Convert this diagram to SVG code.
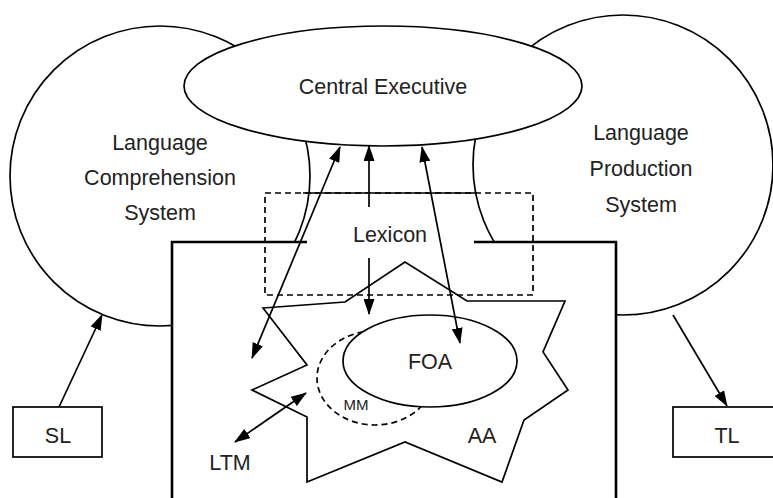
<svg xmlns="http://www.w3.org/2000/svg" width="773" height="498" viewBox="0 0 773 498">
<defs>
<marker id="ah" viewBox="0 0 16 11" refX="15" refY="5.5" markerWidth="16" markerHeight="11" markerUnits="userSpaceOnUse" orient="auto-start-reverse">
<path d="M0,0 L16,5.5 L0,11 z" fill="#000"/>
</marker>
</defs>
<style>
.ln{fill:none;stroke:#000;stroke-width:1.7}
.sh{fill:#fff;stroke:#000;stroke-width:1.7}
.bx{fill:none;stroke:#000;stroke-width:2.6}
.ds{fill:none;stroke:#000;stroke-width:1.7;stroke-dasharray:6 4}
.ar{fill:none;stroke:#000;stroke-width:1.7;marker-end:url(#ah)}
.da{fill:none;stroke:#000;stroke-width:1.7;marker-start:url(#ah);marker-end:url(#ah)}
text{font-family:"Liberation Sans",Arial,sans-serif;font-size:21.5px;fill:#222;text-anchor:middle}
</style>
<rect width="773" height="498" fill="#fff"/>
<g id="lcs">
<circle class="sh" cx="160" cy="176" r="150"/>
</g>
<g id="lps">
<circle class="sh" cx="623" cy="165" r="150"/>
</g>
<g id="ce">
<ellipse class="sh" cx="383" cy="86" rx="199" ry="60"/>
<text x="383" y="94">Central Executive</text>
</g>
<g id="box">
<rect x="172" y="242" width="444" height="260" fill="#fff"/>
<path class="bx" d="M307,242 H172 V500 M474,242 H616 V500"/>
</g>
<g id="lexicon">
<rect class="ds" x="265" y="193" width="268" height="102"/>
<line class="ln" x1="303" y1="193" x2="477" y2="193"/>
<text x="390" y="242">Lexicon</text>
</g>
<g id="aa">
<polygon class="ln" points="263,308 345,302 405,262 467,301 565,301 543,352 568,390 524,420 502,482 405,442 307,482 307,417 252,390 307,365"/>
<text x="482" y="443">AA</text>
</g>
<g id="mm">
<ellipse class="ds" cx="375" cy="378" rx="58" ry="47"/>
<text x="356" y="410" style="font-size:15px">MM</text>
</g>
<g id="foa">
<ellipse class="sh" cx="430" cy="361" rx="87" ry="46"/>
<text x="430" y="369">FOA</text>
</g>
<g id="sl">
<rect x="13" y="407" width="89" height="50" fill="#fff" stroke="#000" stroke-width="1.7"/>
<text x="58" y="443">SL</text>
</g>
<g id="tl">
<rect x="673" y="407" width="110" height="50" fill="#fff" stroke="#000" stroke-width="1.7"/>
<text x="727" y="443">TL</text>
</g>
<g id="labels">
<text x="160" y="150">Language</text>
<text x="160" y="185">Comprehension</text>
<text x="160" y="220">System</text>
<text x="641" y="140">Language</text>
<text x="641" y="176">Production</text>
<text x="641" y="212">System</text>
<text x="230" y="470">LTM</text>
</g>
<g id="connectors">
<line class="ar" x1="59" y1="407" x2="102" y2="315"/>
<line class="ar" x1="673" y1="315" x2="727" y2="406"/>
<line class="ar" x1="369" y1="207" x2="369" y2="146"/>
<line class="ar" x1="369" y1="258" x2="369" y2="314"/>
<line class="da" x1="340" y1="147" x2="252" y2="358"/>
<line class="da" x1="422" y1="147" x2="460" y2="343"/>
<line class="da" x1="235" y1="442" x2="306" y2="393"/>
</g>
</svg>
